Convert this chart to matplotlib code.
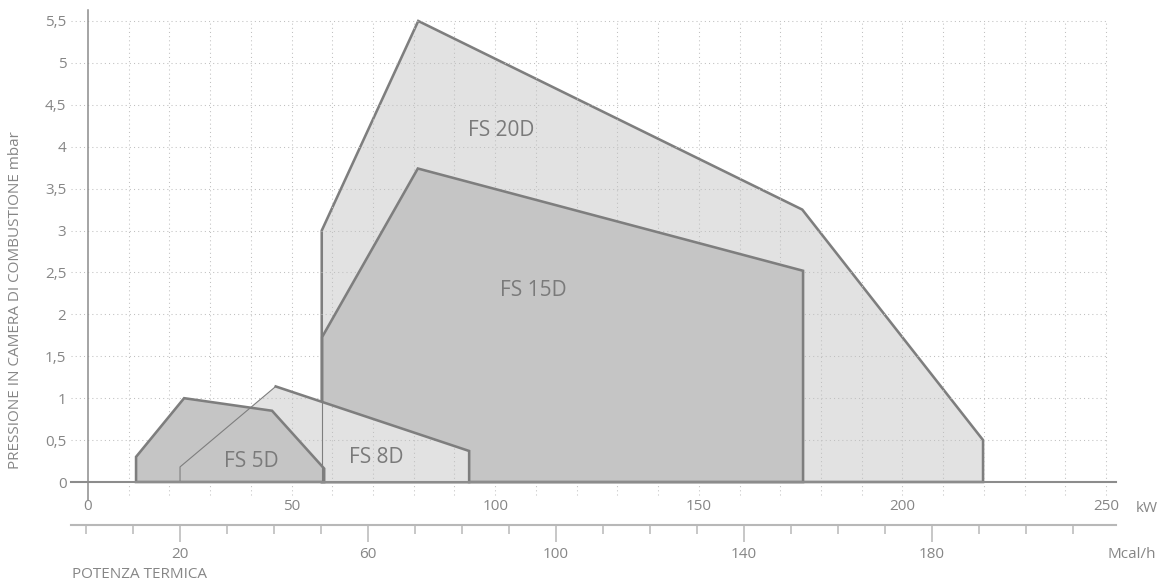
import matplotlib
matplotlib.use("Agg")
import matplotlib.pyplot as plt
from matplotlib.patches import Polygon
from matplotlib.ticker import FixedLocator

plt.rcParams['font.family'] = ['Open Sans', 'DejaVu Sans']

# ---------------- data ----------------
fs20_kw = [57.4, 57.4, 81.1, 175.4, 219.8, 219.8]
fs20_mbar = [0.0, 3.0, 5.5, 3.25, 0.5, 0.0]
fs15_kw = [57.5, 57.5, 81.0, 175.6, 175.6]
fs15_mbar = [0.0, 1.73, 3.74, 2.52, 0.0]
fs8_kw = [22.6, 22.6, 46.1, 93.6, 93.6]
fs8_mbar = [0.0, 0.18, 1.14, 0.37, 0.0]
fs5_kw = [11.8, 11.8, 23.6, 45.2, 58.0, 58.0]
fs5_mbar = [0.0, 0.30, 1.0, 0.85, 0.16, 0.0]

names = ['FS 20D', 'FS 15D', 'FS 8D', 'FS 5D']

kw_ticks = [0, 50, 100, 150, 200, 250]
kw_tick_labels = ['0', '50', '100', '150', '200', '250']
kw_grid = list(range(10, 251, 10))
mbar_ticks = [0, 0.5, 1, 1.5, 2, 2.5, 3, 3.5, 4, 4.5, 5, 5.5]
mbar_tick_labels = ['0', '0,5', '1', '1,5', '2', '2,5', '3', '3,5', '4', '4,5', '5', '5,5']
mcal_major = [20, 60, 100, 140, 180]
mcal_minor = [0, 10, 30, 40, 50, 70, 80, 90, 110, 120, 130, 150, 160, 170,
              190, 200, 210]

KW_PER_MCAL = 1.1535
KW_OFFSET = -0.45

def kw2mcal(x):
    return (x - KW_OFFSET) / KW_PER_MCAL

def mcal2kw(m):
    return m * KW_PER_MCAL + KW_OFFSET

# ---------------- style ----------------
LIGHT = '#e2e2e2'
DARK = '#c5c5c5'
EDGE = '#7e7e7e'
TXT = '#868686'
GRID = '#c0c0c0'
THICK = 1.85
THIN = 0.8

W, H = 1162, 584
fig = plt.figure(figsize=(W / 100, H / 100), dpi=100)
ax = fig.add_axes([70.9 / W, 84 / H, 1044.9 / W, 490 / H])
ax.set_xlim(-4.2, 252.4)
ax.set_ylim(-0.2147, 5.631)

for s in ['top', 'right']:
    ax.spines[s].set_visible(False)
ax.spines['left'].set_position(('data', 0))
ax.spines['left'].set_color('#8c8c8c')
ax.spines['left'].set_linewidth(1.1)
ax.spines['bottom'].set_position(('data', 0))
ax.spines['bottom'].set_color('#8c8c8c')
ax.spines['bottom'].set_linewidth(1.5)
ax.spines['left'].set_zorder(6)
ax.spines['bottom'].set_zorder(6)

ax.set_xticks(kw_ticks)
ax.set_xticklabels(kw_tick_labels)
ax.set_yticks(mbar_ticks)
ax.set_yticklabels(mbar_tick_labels)
ax.tick_params(axis='both', length=0, labelsize=11, labelcolor=TXT)
ax.tick_params(axis='x', pad=12)
ax.tick_params(axis='y', pad=15.5)

ax.set_ylabel('PRESSIONE IN CAMERA DI COMBUSTIONE mbar', fontsize=11,
              color=TXT, va='center')
ax.yaxis.set_label_coords((16 - 70.9) / 1044.9, (500 - 300) / 490)

grid_style = dict(colors=GRID, linewidths=0.75, linestyles=[(0, (1, 3))])

def draw_grid(z, clip=None):
    v = ax.vlines(kw_grid, -0.15, mbar_ticks[-1], zorder=z, **grid_style)
    h = ax.hlines(mbar_ticks[1:], -4.2, kw_grid[-1], zorder=z, **grid_style)
    if clip is not None:
        v.set_clip_path(clip)
        h.set_clip_path(clip)

# FS 20D (light, bottom)
p20 = Polygon(list(zip(fs20_kw, fs20_mbar)), closed=True, facecolor=LIGHT,
              edgecolor=EDGE, linewidth=THICK, zorder=1)
ax.add_patch(p20)
draw_grid(1.5)

# FS 15D (dark)
p15 = Polygon(list(zip(fs15_kw, fs15_mbar)), closed=True, facecolor=DARK,
              edgecolor=EDGE, linewidth=THICK, zorder=2)
ax.add_patch(p15)

# FS 8D (light)
p8 = Polygon(list(zip(fs8_kw, fs8_mbar)), closed=True, facecolor=LIGHT,
             edgecolor='none', linewidth=0, zorder=3)
ax.add_patch(p8)
draw_grid(3.2, clip=p8)
ax.plot(fs8_kw[2:], fs8_mbar[2:], color=EDGE, lw=THICK, zorder=3.4,
        solid_joinstyle='miter')

# FS 5D (dark, top)
p5 = Polygon(list(zip(fs5_kw, fs5_mbar)), closed=True, facecolor=DARK,
             edgecolor=EDGE, linewidth=THICK, zorder=4)
ax.add_patch(p5)

# thin outlines over everything
ax.plot(fs8_kw[:3], fs8_mbar[:3], color=EDGE, lw=THIN, zorder=5)
ax.plot(fs15_kw[:2], fs15_mbar[:2], color=EDGE, lw=THIN, zorder=5)

# product labels
label_pos = [(101.4, 4.19), (109.3, 2.29), (70.7, 0.29), (40.0, 0.25)]
for name, (lx, ly) in zip(names, label_pos):
    ax.text(lx, ly, name, ha='center', va='center', fontsize=15,
            color='#7a7a7a', zorder=7)

# secondary axis in Mcal/h
sec = ax.secondary_xaxis((500 - 524.5) / 490, functions=(kw2mcal, mcal2kw))
sec.xaxis.set_major_locator(FixedLocator(mcal_major))
sec.xaxis.set_minor_locator(FixedLocator(mcal_minor))
sec.tick_params(which='major', direction='out', length=12.5, width=1.1,
                color='#b8b8b8', pad=3.5, labelsize=11, labelcolor=TXT)
sec.tick_params(which='minor', direction='out', length=6.5, width=1.1,
                color='#b8b8b8')
for s in sec.spines.values():
    s.set_color('#b8b8b8')
    s.set_linewidth(1.5)

fig.text(1147 / W, 1 - 509 / H, 'kW', ha='center', va='center', fontsize=11,
         color=TXT)
fig.text(1132 / W, 1 - 554 / H, 'Mcal/h', ha='center', va='center',
         fontsize=11, color=TXT)
fig.text(72 / W, 1 - 575 / H, 'POTENZA TERMICA', ha='left', va='center',
         fontsize=11, color=TXT)

fig.savefig('out.png', dpi=100)
